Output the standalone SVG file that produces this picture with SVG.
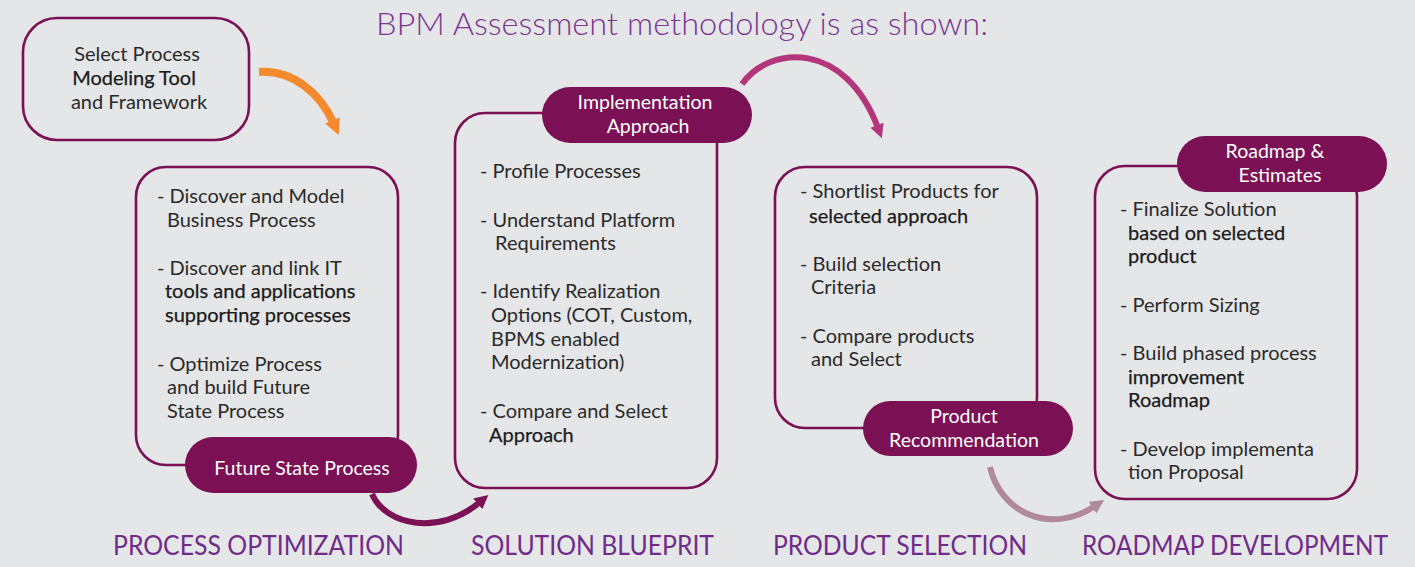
<svg xmlns="http://www.w3.org/2000/svg" width="1415" height="567" viewBox="0 0 1415 567">
  <defs>
    <style>
      .box { fill: none; stroke: #7b1154; stroke-width: 2.6; }
      .pill { fill: #7b1154; }
      .txt { font-family: Lato, "Liberation Sans", sans-serif; font-size: 20px; fill: #2a2a2a; }
      .b { fill: #1a1a1a; stroke: #1a1a1a; stroke-width: 0.25; }
      .ptxt { font-family: Lato, "Liberation Sans", sans-serif; font-size: 19.5px; fill: #ffffff; text-anchor: middle; }
      .title { font-family: Lato, "Liberation Sans", sans-serif; font-size: 31px; font-weight: 300; fill: #7a3592; }
      .phase { font-family: Lato, "Liberation Sans", sans-serif; font-size: 26px; fill: #702b8a; }
      .conn { fill: none; stroke-linecap: butt; }
    </style>
    <marker id="headOrange" markerUnits="userSpaceOnUse" markerWidth="18" markerHeight="18" refX="4" refY="8" orient="auto">
      <path d="M0,0 L16,8 L0,16 Z" fill="#f5892d"/>
    </marker>
    <marker id="headDark" markerUnits="userSpaceOnUse" markerWidth="16" markerHeight="16" refX="3" refY="7" orient="auto">
      <path d="M0,0 L14,7 L0,14 Z" fill="#7b1154"/>
    </marker>
    <marker id="headPink" markerUnits="userSpaceOnUse" markerWidth="16" markerHeight="16" refX="3" refY="7" orient="auto">
      <path d="M0,0 L14,7 L0,14 Z" fill="#b3357b"/>
    </marker>
    <marker id="headMauve" markerUnits="userSpaceOnUse" markerWidth="16" markerHeight="16" refX="3" refY="7" orient="auto">
      <path d="M0,0 L14,7 L0,14 Z" fill="#b08a9b"/>
    </marker>
  </defs>

  <rect x="0" y="0" width="1415" height="567" fill="#e5e6e8"/>

  <text class="title" x="376" y="35" textLength="612" lengthAdjust="spacingAndGlyphs">BPM Assessment methodology is as shown:</text>

  <!-- connectors between the stages -->
  <g id="connectors">
    <path class="conn" d="M259,72 C292,70 320,92 334,124" stroke="#f5892d" stroke-width="8" marker-end="url(#headOrange)"/>
    <path class="conn" d="M372,494 C386,526 440,536 480,502" stroke="#7b1154" stroke-width="6" marker-end="url(#headDark)"/>
    <path class="conn" d="M742,84 C770,45 845,40 878,128" stroke="#b3357b" stroke-width="6" marker-end="url(#headPink)"/>
    <path class="conn" d="M990,467 C1000,512 1050,536 1095,506" stroke="#b08a9b" stroke-width="6" marker-end="url(#headMauve)"/>
  </g>

  <!-- start: tool selection -->
  <g id="select-tool">
    <rect class="box" x="23" y="18" width="226" height="122" rx="34"/>
    <text class="txt" x="137" y="61" text-anchor="middle">Select Process</text>
    <text class="txt b" x="134" y="85" text-anchor="middle">Modeling Tool</text>
    <text class="txt" x="139" y="109" text-anchor="middle">and Framework</text>
  </g>

  <!-- stage 1 -->
  <g id="process-optimization">
    <rect class="box" x="136" y="167" width="262" height="298" rx="30"/>
    <text class="txt" x="157" y="203">- Discover and Model</text>
    <text class="txt" x="167" y="227">Business Process</text>
    <text class="txt" x="157" y="275">- Discover and link IT</text>
    <text class="txt b" x="165" y="298">tools and applications</text>
    <text class="txt b" x="165" y="322">supporting processes</text>
    <text class="txt" x="157" y="371">- Optimize Process</text>
    <text class="txt" x="167" y="394">and build Future</text>
    <text class="txt" x="167" y="418">State Process</text>
    <rect class="pill" x="185" y="437" width="232" height="56" rx="28"/>
    <text class="ptxt" x="302" y="475">Future State Process</text>
  </g>

  <!-- stage 2 -->
  <g id="solution-blueprint">
    <rect class="box" x="455" y="113" width="262" height="375" rx="30"/>
    <rect class="pill" x="542" y="87" width="210" height="56" rx="28"/>
    <text class="ptxt" x="645" y="109">Implementation</text>
    <text class="ptxt" x="648" y="133">Approach</text>
    <text class="txt" x="480" y="178">- Profile Processes</text>
    <text class="txt" x="480" y="227">- Understand Platform</text>
    <text class="txt" x="495" y="250">Requirements</text>
    <text class="txt" x="480" y="298">- Identify Realization</text>
    <text class="txt" x="491" y="322">Options (COT, Custom,</text>
    <text class="txt" x="491" y="346">BPMS enabled</text>
    <text class="txt" x="491" y="369">Modernization)</text>
    <text class="txt" x="480" y="418">- Compare and Select</text>
    <text class="txt b" x="489" y="442">Approach</text>
  </g>

  <!-- stage 3 -->
  <g id="product-selection">
    <rect class="box" x="775" y="167" width="262" height="261" rx="30"/>
    <text class="txt" x="800" y="198">- Shortlist Products for</text>
    <text class="txt b" x="809" y="223">selected approach</text>
    <text class="txt" x="800" y="271">- Build selection</text>
    <text class="txt" x="811" y="294">Criteria</text>
    <text class="txt" x="800" y="343">- Compare products</text>
    <text class="txt" x="811" y="366">and Select</text>
    <rect class="pill" x="863" y="401" width="210" height="55" rx="27.5"/>
    <text class="ptxt" x="964" y="423">Product</text>
    <text class="ptxt" x="964" y="447">Recommendation</text>
  </g>

  <!-- stage 4 -->
  <g id="roadmap-development">
    <rect class="box" x="1095" y="166" width="262" height="333" rx="30"/>
    <rect class="pill" x="1177" y="136" width="210" height="56" rx="28"/>
    <text class="ptxt" x="1275" y="158">Roadmap &amp;</text>
    <text class="ptxt" x="1280" y="182">Estimates</text>
    <text class="txt" x="1120" y="216">- Finalize Solution</text>
    <text class="txt b" x="1128" y="240">based on selected</text>
    <text class="txt b" x="1128" y="263">product</text>
    <text class="txt" x="1120" y="312">- Perform Sizing</text>
    <text class="txt" x="1120" y="360">- Build phased process</text>
    <text class="txt b" x="1128" y="384">improvement</text>
    <text class="txt b" x="1128" y="407">Roadmap</text>
    <text class="txt" x="1120" y="456">- Develop implementa</text>
    <text class="txt" x="1128" y="479">tion Proposal</text>
  </g>

  <!-- phase captions -->
  <g id="phase-labels">
    <text class="phase" x="113" y="555" textLength="291" lengthAdjust="spacingAndGlyphs">PROCESS OPTIMIZATION</text>
    <text class="phase" x="471" y="555" textLength="243" lengthAdjust="spacingAndGlyphs">SOLUTION BLUEPRIT</text>
    <text class="phase" x="773" y="555" textLength="254" lengthAdjust="spacingAndGlyphs">PRODUCT SELECTION</text>
    <text class="phase" x="1082" y="555" textLength="306" lengthAdjust="spacingAndGlyphs">ROADMAP DEVELOPMENT</text>
  </g>
</svg>
